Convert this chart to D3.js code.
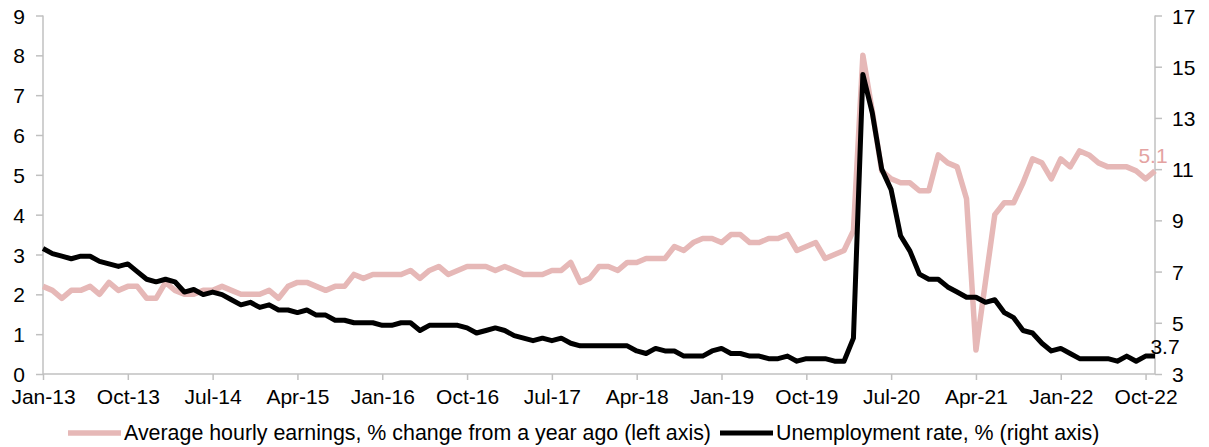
<!DOCTYPE html>
<html>
<head>
<meta charset="utf-8">
<script src="https://cdn.jsdelivr.net/npm/d3@7"></script>
<style>
  body { margin: 0; background: #fff; }
  text { font-family: "Liberation Sans", Arial, sans-serif; }
</style>
</head>
<body>
<div id="chart"></div>
<script>
// monthly, Jan-2013 .. Nov-2022
var startYear = 2013;
var earnings = [
  2.2, 2.1, 1.9, 2.1, 2.1, 2.2, 2.0, 2.3, 2.1, 2.2, 2.2, 1.9,
  1.9, 2.3, 2.1, 2.0, 2.0, 2.1, 2.1, 2.2, 2.1, 2.0, 2.0, 2.0,
  2.1, 1.9, 2.2, 2.3, 2.3, 2.2, 2.1, 2.2, 2.2, 2.5, 2.4, 2.5,
  2.5, 2.5, 2.5, 2.6, 2.4, 2.6, 2.7, 2.5, 2.6, 2.7, 2.7, 2.7,
  2.6, 2.7, 2.6, 2.5, 2.5, 2.5, 2.6, 2.6, 2.8, 2.3, 2.4, 2.7,
  2.7, 2.6, 2.8, 2.8, 2.9, 2.9, 2.9, 3.2, 3.1, 3.3, 3.4, 3.4,
  3.3, 3.5, 3.5, 3.3, 3.3, 3.4, 3.4, 3.5, 3.1, 3.2, 3.3, 2.9,
  3.0, 3.1, 3.6, 8.0, 6.6, 5.1, 4.9, 4.8, 4.8, 4.6, 4.6, 5.5,
  5.3, 5.2, 4.4, 0.6, 2.3, 4.0, 4.3, 4.3, 4.8, 5.4, 5.3, 4.9,
  5.4, 5.2, 5.6, 5.5, 5.3, 5.2, 5.2, 5.2, 5.1, 4.9, 5.1
];
var unemployment = [
  7.9, 7.7, 7.6, 7.5, 7.6, 7.6, 7.4, 7.3, 7.2, 7.3, 7.0, 6.7,
  6.6, 6.7, 6.6, 6.2, 6.3, 6.1, 6.2, 6.1, 5.9, 5.7, 5.8, 5.6,
  5.7, 5.5, 5.5, 5.4, 5.5, 5.3, 5.3, 5.1, 5.1, 5.0, 5.0, 5.0,
  4.9, 4.9, 5.0, 5.0, 4.7, 4.9, 4.9, 4.9, 4.9, 4.8, 4.6, 4.7,
  4.8, 4.7, 4.5, 4.4, 4.3, 4.4, 4.3, 4.4, 4.2, 4.1, 4.1, 4.1,
  4.1, 4.1, 4.1, 3.9, 3.8, 4.0, 3.9, 3.9, 3.7, 3.7, 3.7, 3.9,
  4.0, 3.8, 3.8, 3.7, 3.7, 3.6, 3.6, 3.7, 3.5, 3.6, 3.6, 3.6,
  3.5, 3.5, 4.4, 14.7, 13.2, 11.0, 10.2, 8.4, 7.8, 6.9, 6.7, 6.7,
  6.4, 6.2, 6.0, 6.0, 5.8, 5.9, 5.4, 5.2, 4.7, 4.6, 4.2, 3.9,
  4.0, 3.8, 3.6, 3.6, 3.6, 3.6, 3.5, 3.7, 3.5, 3.7, 3.7
];
var leftTicks = [0, 1, 2, 3, 4, 5, 6, 7, 8, 9];
var rightTicks = [3, 5, 7, 9, 11, 13, 15, 17];
var xTickMonths = [0, 9, 18, 27, 36, 45, 54, 63, 72, 81, 90, 99, 108, 117];
var monthNames = ["Jan", "Feb", "Mar", "Apr", "May", "Jun", "Jul", "Aug", "Sep", "Oct", "Nov", "Dec"];
var legendLabels = [
  "Average hourly earnings, % change from a year ago (left axis)",
  "Unemployment rate, % (right axis)"
];

var width = 1209, height = 447;
var plotLeft = 43, plotRight = 1155, plotTop = 15.5, plotBottom = 374;
var pink = "#e6b8b7", axisColor = "#c0c0c0";
var fontSize = "21px";

var svg = d3.select("#chart").append("svg")
    .attr("width", width)
    .attr("height", height);

var x = d3.scaleLinear().domain([0, earnings.length - 1]).range([plotLeft, plotRight]);
var yL = d3.scaleLinear().domain([0, 9]).range([plotBottom, plotTop]);
var yR = d3.scaleLinear().domain([3, 17]).range([plotBottom, plotTop]);

function label(i) {
    var yr = startYear + Math.floor(i / 12);
    return monthNames[i % 12] + "-" + String(yr).slice(2);
}

// axes
var gx = svg.append("g")
    .attr("transform", "translate(0," + plotBottom + ")")
    .call(d3.axisBottom(x).tickValues(xTickMonths).tickFormat(label).tickSize(6).tickPadding(9));
var gl = svg.append("g")
    .attr("transform", "translate(" + plotLeft + ",0)")
    .call(d3.axisLeft(yL).tickValues(leftTicks).tickFormat(d3.format("d")).tickSize(7).tickPadding(11));
var gr = svg.append("g")
    .attr("transform", "translate(" + plotRight + ",0)")
    .call(d3.axisRight(yR).tickValues(rightTicks).tickFormat(d3.format("d")).tickSize(7).tickPadding(10));

[gx, gl, gr].forEach(function(g) {
    g.select(".domain").attr("stroke", axisColor).attr("stroke-width", 1.5);
    g.selectAll(".tick line").attr("stroke", axisColor).attr("stroke-width", 1.5);
    g.selectAll(".tick text")
        .attr("fill", "#000")
        .style("font-size", fontSize)
        .style("font-family", "'Liberation Sans', Arial, sans-serif");
});
gl.select(".domain").attr("d", "M0," + plotTop + "V" + plotBottom);
gr.select(".domain").attr("d", "M0," + plotTop + "V" + plotBottom);
gx.select(".domain").attr("d", "M" + plotLeft + ",0H" + plotRight);
gl.selectAll(".tick text").attr("dy", "0.36em");
gr.selectAll(".tick text").attr("dy", "0.36em");

// lines
var lineL = d3.line().x(function(d, i) { return x(i); }).y(function(d) { return yL(d); });
var lineR = d3.line().x(function(d, i) { return x(i); }).y(function(d) { return yR(d); });

svg.append("path")
    .datum(earnings)
    .attr("d", lineL)
    .attr("fill", "none")
    .attr("stroke", pink)
    .attr("stroke-width", 5.5)
    .attr("stroke-linejoin", "round");

svg.append("path")
    .datum(unemployment)
    .attr("d", lineR)
    .attr("fill", "none")
    .attr("stroke", "#000")
    .attr("stroke-width", 5)
    .attr("stroke-linejoin", "round");

// end labels
var last = earnings.length - 1;
svg.append("text")
    .attr("x", x(last) - 2)
    .attr("y", yL(earnings[last]) - 8)
    .attr("text-anchor", "middle")
    .attr("fill", "#e4a3a2")
    .style("font-size", fontSize)
    .text(earnings[last].toFixed(1));
svg.append("text")
    .attr("x", x(last) + 10)
    .attr("y", yR(unemployment[last]) - 2)
    .attr("text-anchor", "middle")
    .attr("fill", "#000")
    .style("font-size", fontSize)
    .text(unemployment[last].toFixed(1));

// legend
var legend = svg.append("g").attr("transform", "translate(0,433)");
var items = [
    { x: 68, color: pink, w: 5.5, text: legendLabels[0] },
    { x: 720, color: "#000", w: 5, text: legendLabels[1] }
];
items.forEach(function(it) {
    legend.append("line")
        .attr("x1", it.x).attr("x2", it.x + 53)
        .attr("y1", 0).attr("y2", 0)
        .attr("stroke", it.color)
        .attr("stroke-width", it.w);
    legend.append("text")
        .attr("x", it.x + 56)
        .attr("y", 7)
        .attr("fill", "#000")
        .style("font-size", "21.4px")
        .text(it.text);
});
</script>
</body>
</html>
